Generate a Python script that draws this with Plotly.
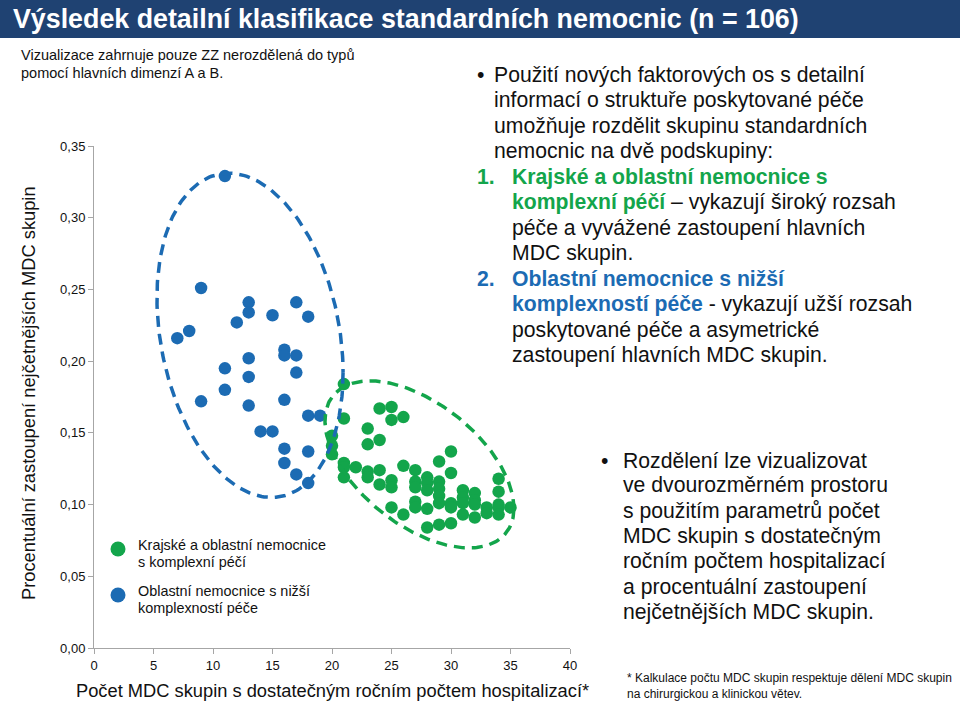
import numpy as np
import plotly.graph_objects as go

# ---------------- data ----------------
green_x = [20, 20, 20,
           21, 21, 21, 21, 21,
           22,
           23, 23, 23, 23,
           24, 24, 24, 24,
           25, 25, 25, 25, 25,
           26, 26, 26,
           27, 27, 27, 27, 27,
           28, 28, 28, 28, 28,
           29, 29, 29, 29, 29, 29,
           30, 30, 30, 30, 30,
           31, 31, 31, 31,
           32, 32, 32, 32,
           33, 33,
           34, 34, 34, 34, 34,
           35]
green_y = [0.148, 0.141, 0.135,
           0.184, 0.160, 0.129, 0.126, 0.119,
           0.126,
           0.153, 0.142, 0.123, 0.119,
           0.167, 0.145, 0.124, 0.114,
           0.168, 0.159, 0.117, 0.112, 0.098,
           0.161, 0.127, 0.093,
           0.124, 0.116, 0.112, 0.102, 0.098,
           0.119, 0.115, 0.110, 0.097, 0.084,
           0.130, 0.116, 0.111, 0.106, 0.101, 0.086,
           0.137, 0.122, 0.101, 0.098, 0.087,
           0.110, 0.105, 0.101, 0.093,
           0.108, 0.103, 0.100, 0.091,
           0.098, 0.094,
           0.118, 0.109, 0.100, 0.098, 0.093,
           0.098]

blue_x = [11, 9, 7, 8, 12, 13, 13, 15, 17, 18,
          16, 16, 17, 13, 11, 13, 17, 11, 9, 13,
          16, 18, 19, 14, 15, 16, 18, 16, 17, 18]
blue_y = [0.329, 0.251, 0.216, 0.221, 0.227, 0.241, 0.234, 0.232, 0.241, 0.231,
          0.208, 0.204, 0.204, 0.202, 0.195, 0.189, 0.192, 0.180, 0.172, 0.169,
          0.173, 0.162, 0.162, 0.151, 0.151, 0.139, 0.137, 0.129, 0.121, 0.115]

x_ticks = [0, 5, 10, 15, 20, 25, 30, 35, 40]
y_ticks = [0.00, 0.05, 0.10, 0.15, 0.20, 0.25, 0.30, 0.35]

green_lines = ["Krajské a oblastní nemocnice", "s komplexní péčí"]
blue_lines = ["Oblastní nemocnice s nižší", "komplexností péče"]

GREEN = "#13A54B"
BLUE = "#1C6BB3"
NAVY = "#1F4272"
TXT = "#111111"
FONT = "Liberation Sans, Arial, sans-serif"

# layout geometry (pixels)
W, H = 960, 704
L, R, T, B = 94, 390, 146, 56
PW, PH = W - L - R, H - T - B


def px(x):
    return (x - L) / PW


def py(y):
    return (H - B - y) / PH


def ellipse(cx, cy, ax, bx, by, n=240):
    t = np.linspace(0, 2 * np.pi, n)
    return cx + ax * np.cos(t), cy + bx * np.cos(t) + by * np.sin(t)


fig = go.Figure()

fig.add_trace(go.Scatter(
    x=green_x, y=green_y, mode="markers", name=" ".join(green_lines), showlegend=False,
    marker=dict(color=GREEN, size=12.5, line=dict(width=0))))
fig.add_trace(go.Scatter(
    x=blue_x, y=blue_y, mode="markers", name=" ".join(blue_lines), showlegend=False,
    marker=dict(color=BLUE, size=12.5, line=dict(width=0))))

# dashed ellipses around the two groups
gx, gy = ellipse(27.35, 0.128, 7.94, -0.0305, -0.0496)
fig.add_trace(go.Scatter(x=gx, y=gy, mode="lines", showlegend=False, hoverinfo="skip",
                         line=dict(color=GREEN, width=3.5, dash="11px,7px")))
bx_, by_ = ellipse(13.11, 0.218, 7.82, -0.0260, -0.1100)
fig.add_trace(go.Scatter(x=bx_, y=by_, mode="lines", showlegend=False, hoverinfo="skip",
                         line=dict(color=BLUE, width=3.5, dash="11px,7px")))

ann = []


def text(x, y, s, size, color=TXT, xanchor="left", yanchor="middle", **kw):
    ann.append(dict(x=px(x), y=py(y), text=s, xanchor=xanchor, yanchor=yanchor, align="left",
                    font=dict(size=size, color=color, family=FONT), **kw))


# title
text(11, 19, "<b>Výsledek detailní klasifikace standardních nemocnic (n = 106)</b>", 26.8, color="white")
# subtitle
text(19, 55, "Vizualizace zahrnuje pouze ZZ nerozdělená do typů", 14.5)
text(19, 73, "pomocí hlavních dimenzí A a B.", 14.5)

FS = 21.2
g = lambda s: f"<span style='color:{GREEN}'><b>{s}</b></span>"
b = lambda s: f"<span style='color:{BLUE}'><b>{s}</b></span>"

block1 = ["Použití nových faktorových os s detailní",
          "informací o struktuře poskytované péče",
          "umožňuje rozdělit skupinu standardních",
          "nemocnic na dvě podskupiny:"]
block1b = [g("Krajské a oblastní nemocnice s"),
           g("komplexní péčí") + " – vykazují široký rozsah",
           "péče a vyvážené zastoupení hlavních",
           "MDC skupin.",
           b("Oblastní nemocnice s nižší"),
           b("komplexností péče") + " - vykazují užší rozsah",
           "poskytované péče a asymetrické",
           "zastoupení hlavních MDC skupin."]
step1 = 25.45
text(480, 75, "•", FS, xanchor="center")
for i, s in enumerate(block1):
    text(492, 75 + step1 * i, s, FS)
for i, s in enumerate(block1b):
    text(510, 75 + step1 * (i + 4), s, FS)
text(475, 75 + step1 * 4, "<b>1.</b>", FS, color=GREEN)
text(475, 75 + step1 * 8, "<b>2.</b>", FS, color=BLUE)

block2 = ["Rozdělení lze vizualizovat",
          "ve dvourozměrném prostoru",
          "s použitím parametrů počet",
          "MDC skupin s dostatečným",
          "ročním počtem hospitalizací",
          "a procentuální zastoupení",
          "nejčetnějších MDC skupin."]
text(604, 460, "•", FS, xanchor="center")
for i, s in enumerate(block2):
    text(621, 460 + 25.3 * i, s, FS)

# footnote
text(625, 678, "* Kalkulace počtu MDC skupin respektuje dělení MDC skupin", 12)
text(625, 694, "na chirurgickou a klinickou větev.", 12)

# legend (manual, to match the line spacing)
shapes = [dict(type="rect", xref="paper", yref="paper", x0=px(0), x1=px(W), y0=py(38), y1=py(0),
               fillcolor=NAVY, line=dict(width=0), layer="below")]
for (cy, col, lines) in [(549, GREEN, green_lines), (595, BLUE, blue_lines)]:
    shapes.append(dict(type="circle", xref="paper", yref="paper", x0=px(110.5), x1=px(125.5),
                       y0=py(cy + 7.5), y1=py(cy - 7.5), fillcolor=col, line=dict(width=0)))
    text(136, cy - 4, lines[0], 14.4)
    text(136, cy + 13, lines[1], 14.4)

# axis titles
text(332, 690, "Počet MDC skupin s dostatečným ročním počtem hospitalizací*", 18.3, xanchor="center")
text(28, 393, "Procentuální zastoupení nejčetnějších MDC skupin", 18.3, xanchor="center", textangle=-90)

for a in ann:
    a.update(xref="paper", yref="paper", showarrow=False)

fig.update_layout(
    width=W, height=H,
    margin=dict(l=L, r=R, t=T, b=B, pad=0),
    paper_bgcolor="white", plot_bgcolor="white",
    separators=", ",
    font=dict(family=FONT, color=TXT),
    showlegend=False,
    xaxis=dict(range=[0, 40], tickvals=x_ticks, tickformat="d", showgrid=False, zeroline=False,
               showline=True, linecolor="#A6A6A6", linewidth=1, ticks="outside", ticklen=5,
               tickcolor="#A6A6A6", tickfont=dict(size=13, color=TXT), fixedrange=True),
    yaxis=dict(range=[0, 0.35], tickvals=y_ticks, tickformat=".2f", showgrid=False, zeroline=False,
               showline=True, linecolor="#A6A6A6", linewidth=1, ticks="outside", ticklen=5,
               tickcolor="#A6A6A6", tickfont=dict(size=13, color=TXT), fixedrange=True),
    shapes=shapes,
    annotations=ann,
)

fig.write_html("out.html", include_plotlyjs=True, config={"displayModeBar": False})
